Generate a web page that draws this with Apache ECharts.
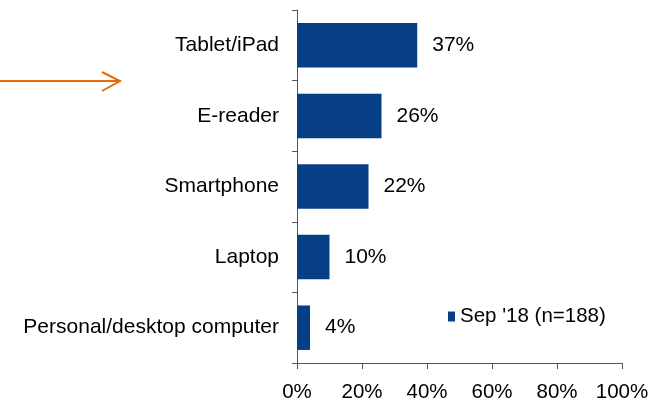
<!DOCTYPE html>
<html>
<head>
<meta charset="utf-8">
<script src="https://cdn.jsdelivr.net/npm/echarts@6/dist/echarts.min.js"></script>
<style>
  html, body { margin: 0; padding: 0; background: #fff; }
  #chart { width: 652px; height: 403px; }
</style>
</head>
<body>
<div id="chart"></div>
<script>
// categories top to bottom
const categories = ['Tablet/iPad', 'E-reader', 'Smartphone', 'Laptop', 'Personal/desktop computer'];
const values = [37, 26, 22, 10, 4];
const seriesName = "Sep '18 (n=188)";
const xTicks = [0, 20, 40, 60, 80, 100];

const font = 'Liberation Sans, Arial, sans-serif';
const axisColor = '#555';

let chart = echarts.init(document.getElementById('chart'));
let option = {
  animation: false,
  grid: { left: 297, right: 30, top: 10, bottom: 37, containLabel: false },
  legend: {
    data: [{ name: seriesName, icon: 'rect' }],
    left: 443,
    top: 301,
    itemWidth: 7,
    itemHeight: 10,
    itemGap: 6,
    textStyle: { fontFamily: font, fontSize: 20.5, color: '#000' }
  },
  xAxis: {
    type: 'value',
    min: xTicks[0],
    max: xTicks[xTicks.length - 1],
    interval: 20,
    axisLine: { show: true, lineStyle: { color: axisColor, width: 1 } },
    axisTick: { show: true, length: 6, lineStyle: { color: axisColor } },
    splitLine: { show: false },
    axisLabel: {
      formatter: '{value}%',
      fontFamily: font,
      fontSize: 20.5,
      color: '#000',
      margin: 19
    }
  },
  yAxis: {
    type: 'category',
    data: categories,
    inverse: true,
    axisLine: { show: true, lineStyle: { color: axisColor, width: 1 } },
    axisTick: { show: true, length: 5, lineStyle: { color: axisColor } },
    axisLabel: { fontFamily: font, fontSize: 21, color: '#000', margin: 18 }
  },
  series: [{
    name: seriesName,
    type: 'bar',
    data: values,
    barCategoryGap: '37%',
    itemStyle: { color: '#073f86' },
    label: {
      show: true,
      position: 'right',
      distance: 15,
      formatter: '{c}%',
      fontFamily: font,
      fontSize: 21,
      color: '#000'
    }
  }],
  graphic: [
    {
      type: 'polyline',
      shape: { points: [[0, 81], [119, 81]] },
      style: { stroke: '#e46c0a', lineWidth: 2, fill: null }
    },
    {
      type: 'polyline',
      shape: { points: [[102, 72], [120, 81], [102, 91]] },
      style: { stroke: '#e46c0a', lineWidth: 2, fill: null }
    }
  ]
};
option && chart.setOption(option);
</script>
</body>
</html>
